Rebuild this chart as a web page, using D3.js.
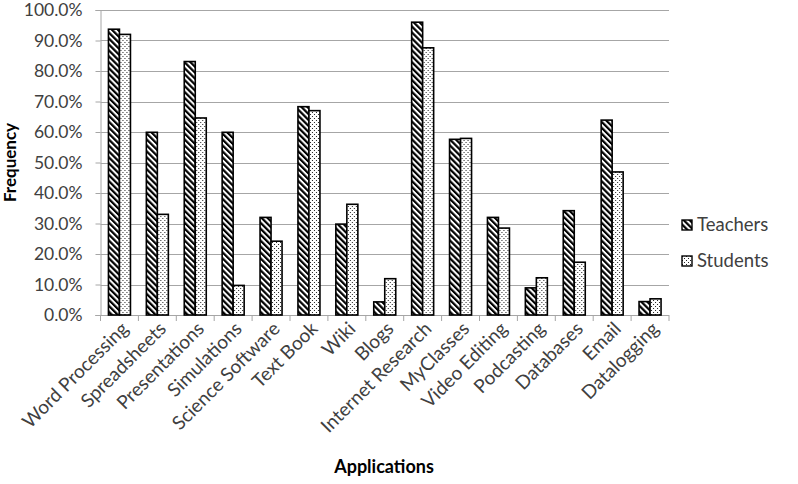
<!DOCTYPE html>
<html>
<head>
<meta charset="utf-8">
<script src="https://cdn.jsdelivr.net/npm/d3@7"></script>
<style>
    body { margin: 0; background: #fff; }
    text { font-family: Lato, "Open Sans", sans-serif; }
</style>
</head>
<body>
<svg id="chart" width="798" height="484"></svg>
<script>
'use strict';

var categories = ['Word Processing', 'Spreadsheets', 'Presentations', 'Simulations', 'Science Software',
    'Text Book', 'Wiki', 'Blogs', 'Internet Research', 'MyClasses', 'Video Editing', 'Podcasting',
    'Databases', 'Email', 'Datalogging'];
var teachers = [93.7, 59.9, 83.1, 59.9, 32.0, 68.3, 29.8, 4.3, 96.0, 57.6, 32.0, 8.9, 34.2, 63.9, 4.4];
var students = [92.0, 33.0, 64.6, 9.7, 24.2, 67.0, 36.3, 11.9, 87.6, 57.9, 28.5, 12.2, 17.3, 46.9, 5.3];
var seriesNames = ['Teachers', 'Students'];
var yTicks = [0, 10, 20, 30, 40, 50, 60, 70, 80, 90, 100];

var margin = { left: 100.5, right: 129, top: 10, bottom: 169 },
    svgW = 798, svgH = 484,
    width = svgW - margin.left - margin.right,
    height = svgH - margin.top - margin.bottom;

var svg = d3.select('#chart');
var defs = svg.append('defs');

// diagonal stripes for teachers
var stripe = defs.append('pattern').attr('id', 'stripes').attr('patternUnits', 'userSpaceOnUse')
    .attr('width', 4.2).attr('height', 4.2).attr('patternTransform', 'rotate(-45)');
stripe.append('rect').attr('width', 4.2).attr('height', 4.2).attr('fill', '#fff');
stripe.append('rect').attr('width', 2.2).attr('height', 4.2).attr('fill', '#000');

// dots for students
var dots = defs.append('pattern').attr('id', 'dots').attr('patternUnits', 'userSpaceOnUse')
    .attr('width', 4).attr('height', 4);
dots.append('rect').attr('width', 4).attr('height', 4).attr('fill', '#fff');
dots.append('rect').attr('x', 0).attr('y', 0).attr('width', 1).attr('height', 1).attr('fill', '#222');
dots.append('rect').attr('x', 2).attr('y', 2).attr('width', 1).attr('height', 1).attr('fill', '#222');

var fills = ['url(#stripes)', 'url(#dots)'];

var g = svg.append('g').attr('transform', 'translate(' + margin.left + ',' + margin.top + ')');

var x = d3.scaleBand().domain(categories).range([0, width]);
var y = d3.scaleLinear().domain([0, 100]).range([height, 0]);

// gridlines
g.selectAll('line.grid').data(yTicks.slice(1)).enter().append('line')
    .attr('class', 'grid')
    .attr('x1', 0).attr('x2', width)
    .attr('y1', function (d) { return Math.round(y(d)) + 0.5; })
    .attr('y2', function (d) { return Math.round(y(d)) + 0.5; })
    .attr('stroke', '#a6a6a6').attr('stroke-width', 1);

// y axis
var yAxis = g.append('g').call(d3.axisLeft(y).tickValues(yTicks).tickSize(5).tickPadding(13)
    .tickFormat(function (d) { return d.toFixed(1) + '%'; }));
yAxis.select('.domain').attr('stroke', '#a6a6a6');
yAxis.selectAll('.tick line').attr('stroke', '#a6a6a6');
yAxis.selectAll('.tick text').attr('fill', '#404040').style('font-size', '17.5px')
    .style('font-family', 'Lato, sans-serif');

// x axis with ticks at category boundaries
var xg = g.append('g').attr('transform', 'translate(0,' + height + ')');
xg.append('line').attr('x1', -5).attr('x2', width).attr('y1', 0.5).attr('y2', 0.5).attr('stroke', '#a6a6a6');
xg.selectAll('line.xt').data(d3.range(categories.length + 1)).enter().append('line')
    .attr('class', 'xt')
    .attr('x1', function (i) { return i * x.step(); })
    .attr('x2', function (i) { return i * x.step(); })
    .attr('y1', 0).attr('y2', 6).attr('stroke', '#a6a6a6');

xg.selectAll('text.cat').data(categories).enter().append('text')
    .attr('class', 'cat')
    .attr('transform', function (d) {
        return 'translate(' + (x(d) + x.bandwidth() / 2 + 10) + ',' + 15 + ') rotate(-45)';
    })
    .attr('text-anchor', 'end')
    .attr('fill', '#404040')
    .style('font-size', '19px')
    .text(function (d) { return d; });

// bars
var barW = 11;
var data = categories.map(function (c, i) { return { cat: c, vals: [teachers[i], students[i]] }; });
var grp = g.selectAll('g.cat').data(data).enter().append('g')
    .attr('transform', function (d) { return 'translate(' + (x(d.cat) + x.bandwidth() / 2 - barW) + ',0)'; });
grp.selectAll('rect').data(function (d) { return d.vals; }).enter().append('rect')
    .attr('x', function (d, i) { return i * barW; })
    .attr('y', function (d) { return y(d); })
    .attr('width', barW)
    .attr('height', function (d) { return height - y(d); })
    .attr('fill', function (d, i) { return fills[i]; })
    .attr('stroke', '#000').attr('stroke-width', 1.6);

// axis titles
svg.append('text')
    .attr('transform', 'translate(16,162.5) rotate(-90)')
    .attr('text-anchor', 'middle')
    .style('font-size', '17px').style('font-weight', 'bold')
    .attr('fill', '#000')
    .text('Frequency');

svg.append('text')
    .attr('x', 384).attr('y', 473)
    .attr('text-anchor', 'middle')
    .style('font-size', '18px').style('font-weight', 'bold')
    .attr('fill', '#000')
    .text('Applications');

// legend
var legend = svg.append('g').attr('transform', 'translate(682,220)');
var li = legend.selectAll('g').data(seriesNames).enter().append('g')
    .attr('transform', function (d, i) { return 'translate(0,' + (i * 36) + ')'; });
li.append('rect').attr('width', 10).attr('height', 10)
    .attr('fill', function (d, i) { return fills[i]; })
    .attr('stroke', '#000').attr('stroke-width', 1.4);
li.append('text').attr('x', 15).attr('y', 11)
    .attr('fill', '#404040')
    .style('font-size', '18.5px')
    .text(function (d) { return d; });
</script>
</body>
</html>
